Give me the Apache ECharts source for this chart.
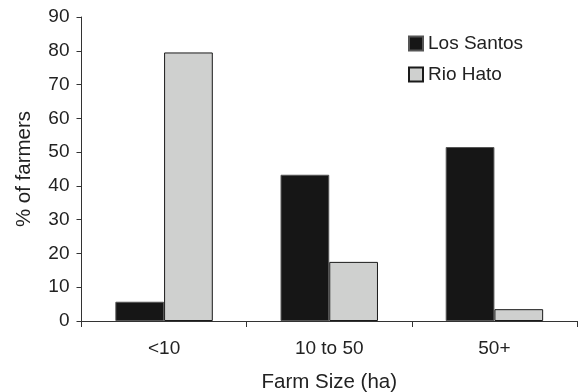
<!DOCTYPE html>
<html><head><meta charset="utf-8">
<script src="https://cdn.jsdelivr.net/npm/echarts@6/dist/echarts.min.js"></script>
<style>html,body{margin:0;padding:0;background:#fff;overflow:hidden}#c{width:579px;height:392px}</style>
</head><body><div id="c"></div>
<script>
var categories = ['<10', '10 to 50', '50+'];
var losSantos = [5.7, 43.3, 51.5];
var rioHato = [79.5, 17.5, 3.5];
var yTicks = [0, 10, 20, 30, 40, 50, 60, 70, 80, 90];

var font = 'Liberation Sans, Arial, Helvetica, sans-serif';
var chart = echarts.init(document.getElementById('c'));
chart.setOption({
  animation: false,
  backgroundColor: '#fff',
  grid: {left: 81.5, right: 2, top: 17, bottom: 71, containLabel: false, outerBoundsMode: 'none'},
  legend: {
    orient: 'vertical', left: 408, top: 34, padding: 0, itemWidth: 14, itemHeight: 14, itemGap: 12,
    itemTextGap: 9,
    textStyle: {fontFamily: font, fontSize: 19, color: '#222'},
    icon: 'rect',
    data: ['Los Santos', 'Rio Hato']
  },
  xAxis: {
    type: 'category', data: categories,
    name: 'Farm Size (ha)', nameLocation: 'middle', nameGap: 51,
    nameTextStyle: {fontFamily: font, fontSize: 20.5, color: '#222'},
    axisLine: {lineStyle: {color: '#333', width: 1}},
    axisTick: {show: true, length: 6, lineStyle: {color: '#333'}},
    axisLabel: {fontFamily: font, fontSize: 19, color: '#222', margin: 18}
  },
  yAxis: {
    type: 'value', min: yTicks[0], max: yTicks[yTicks.length-1], interval: 10,
    name: '% of farmers', nameLocation: 'middle', nameGap: 47,
    nameTextStyle: {fontFamily: font, fontSize: 20.5, color: '#222'},
    axisLine: {show: true, lineStyle: {color: '#333', width: 1}},
    axisTick: {show: true, length: 5, lineStyle: {color: '#333'}},
    axisLabel: {fontFamily: font, fontSize: 19, color: '#222', margin: 12},
    splitLine: {show: false}
  },
  series: [
    {name: 'Los Santos', type: 'bar', data: losSantos, barGap: '0%', barCategoryGap: '41%',
     itemStyle: {color: '#161616', borderColor: '#555', borderWidth: 1}},
    {name: 'Rio Hato', type: 'bar', data: rioHato, barGap: '0%', barCategoryGap: '41%',
     itemStyle: {color: '#cfd0cf', borderColor: '#1a1a1a', borderWidth: 1}}
  ]
});
</script></body></html>
